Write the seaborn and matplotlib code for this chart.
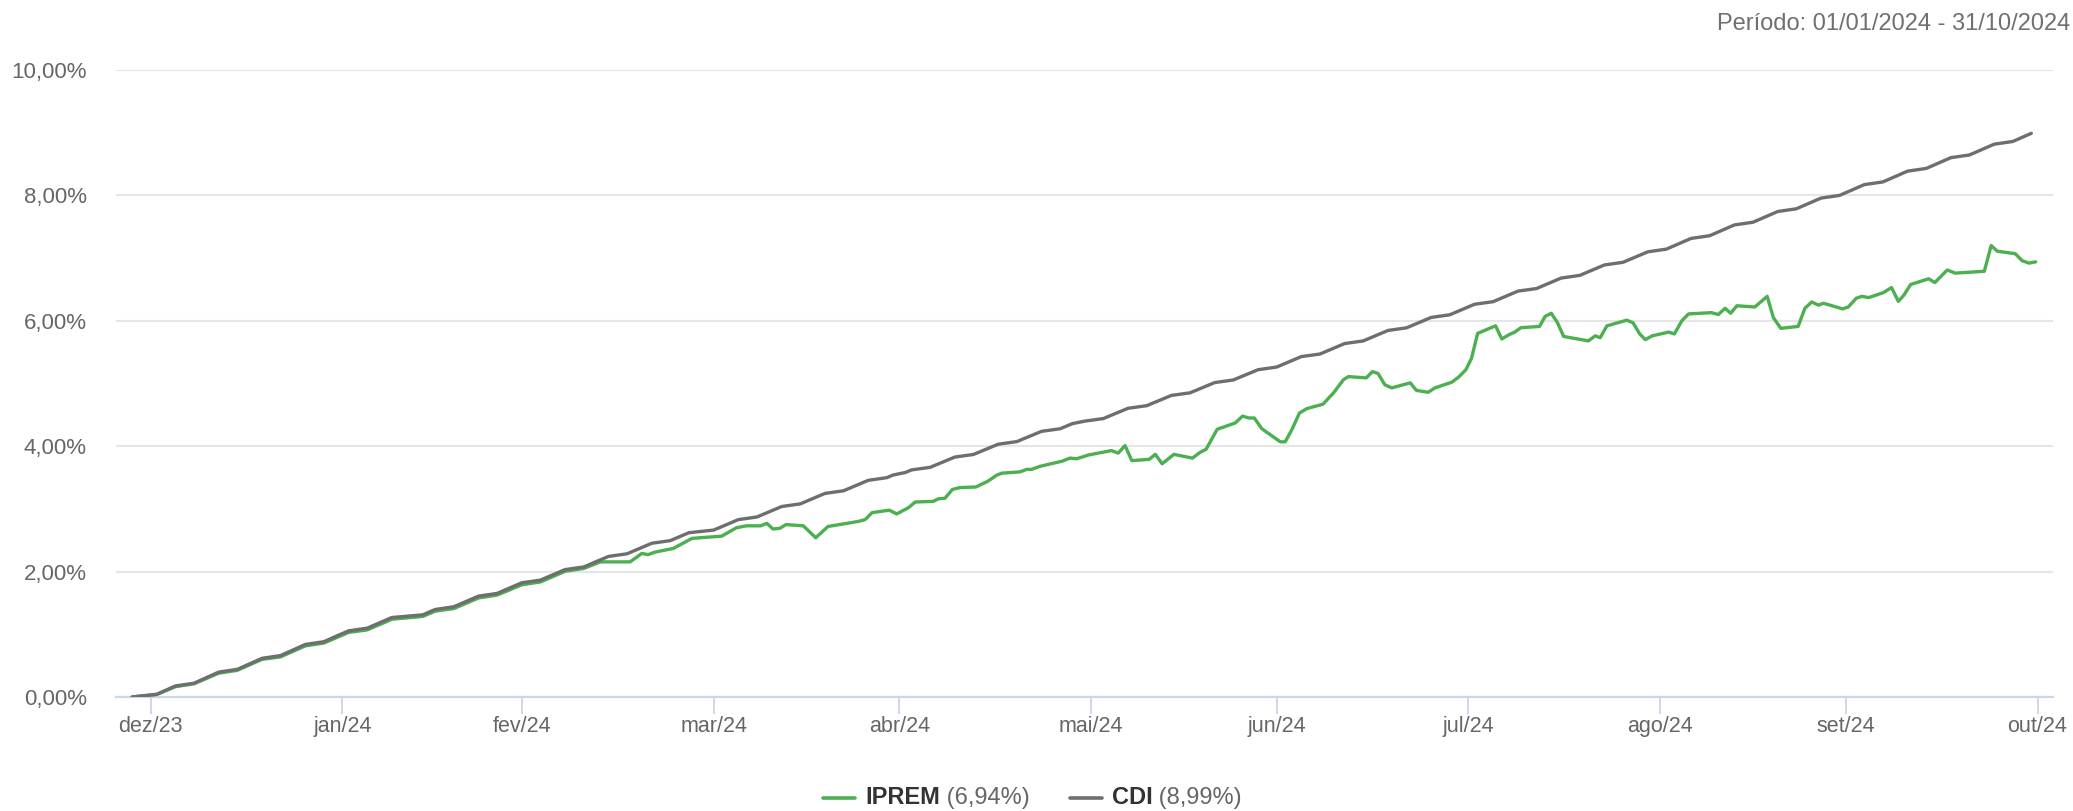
import numpy as np
import pandas as pd
import matplotlib
matplotlib.use("Agg")
import matplotlib.pyplot as plt
import seaborn as sns
from matplotlib.lines import Line2D

# ---------------- data ----------------
series_names = ["IPREM", "CDI"]
series_colors = ["#4caf50", "#6e6e6e"]

cdi_dates = [
    "2023-12-29", "2024-01-02", "2024-01-05", "2024-01-08", "2024-01-12", "2024-01-15",
    "2024-01-19", "2024-01-22", "2024-01-26", "2024-01-29", "2024-01-31", "2024-02-02",
    "2024-02-05", "2024-02-09", "2024-02-14", "2024-02-16", "2024-02-19", "2024-02-23",
    "2024-02-26", "2024-02-29", "2024-03-01", "2024-03-04", "2024-03-08", "2024-03-11",
    "2024-03-15", "2024-03-18", "2024-03-22", "2024-03-25", "2024-03-28", "2024-04-01",
    "2024-04-05", "2024-04-08", "2024-04-12", "2024-04-15", "2024-04-19", "2024-04-22",
    "2024-04-26", "2024-04-29", "2024-04-30", "2024-05-02", "2024-05-03", "2024-05-06",
    "2024-05-10", "2024-05-13", "2024-05-17", "2024-05-20", "2024-05-24", "2024-05-27",
    "2024-05-29", "2024-05-31", "2024-06-03", "2024-06-07", "2024-06-10", "2024-06-14",
    "2024-06-17", "2024-06-21", "2024-06-24", "2024-06-28", "2024-07-01", "2024-07-05",
    "2024-07-08", "2024-07-12", "2024-07-15", "2024-07-19", "2024-07-22", "2024-07-26",
    "2024-07-29", "2024-07-31", "2024-08-02", "2024-08-05", "2024-08-09", "2024-08-12",
    "2024-08-16", "2024-08-19", "2024-08-23", "2024-08-26", "2024-08-30", "2024-09-02",
    "2024-09-06", "2024-09-09", "2024-09-13", "2024-09-16", "2024-09-20", "2024-09-23",
    "2024-09-27", "2024-09-30", "2024-10-04", "2024-10-07", "2024-10-11", "2024-10-14",
    "2024-10-18", "2024-10-21", "2024-10-25", "2024-10-28", "2024-10-31",
]
cdi_values = [
    0.000, 0.044, 0.176, 0.220, 0.397, 0.441,
    0.617, 0.661, 0.838, 0.882, 0.970, 1.055,
    1.098, 1.268, 1.311, 1.396, 1.439, 1.609,
    1.652, 1.780, 1.822, 1.864, 2.032, 2.074,
    2.242, 2.284, 2.452, 2.494, 2.620, 2.662,
    2.829, 2.871, 3.038, 3.080, 3.247, 3.289,
    3.456, 3.498, 3.540, 3.581, 3.622, 3.663,
    3.827, 3.868, 4.032, 4.073, 4.237, 4.278,
    4.360, 4.400, 4.441, 4.605, 4.646, 4.810,
    4.851, 5.015, 5.056, 5.220, 5.262, 5.429,
    5.470, 5.637, 5.679, 5.846, 5.888, 6.054,
    6.096, 6.180, 6.264, 6.305, 6.473, 6.514,
    6.682, 6.724, 6.891, 6.933, 7.100, 7.143,
    7.314, 7.357, 7.529, 7.572, 7.743, 7.786,
    7.957, 8.000, 8.172, 8.215, 8.387, 8.430,
    8.602, 8.645, 8.817, 8.860, 8.990,
]

# IPREM: days counted from 01/01/2024
iprem_days = [
    -3, 1, 4, 7, 11, 14, 18, 21, 25, 28, 30, 32, 35, 39, 44, 46, 49, 53, 56, 59,
    60, 63, 67, 70, 72.7, 77.5, 79.4, 80.4, 81.5, 84.5, 87.5, 92.3, 94.7, 96.3,
    98.6, 99.6, 100.6, 101.7, 102.7, 105.5, 107.5, 109.5, 114.4, 115.5, 116.6,
    119.4, 120.6, 122.5, 123.6, 126.5, 127.3, 128.4, 129.6, 130.8, 133.4, 135.3,
    136.8, 137.6, 140.5, 141.6, 142.4, 143.8, 147.3, 148.6, 149.7, 151.6, 155.3,
    156.4, 157.5, 158.6, 161.4, 162.4, 163.5, 165.4, 168.4, 169.6, 170.6, 172.4,
    175.3, 176.5, 177.5, 178.4, 179.6, 182.6, 183.4, 184.5, 185.7, 186.9, 189.5,
    191.2, 192.8, 193.6, 196.5, 197.5, 198.4, 199.5, 200.6, 203.6, 204.6, 206.5,
    207.6, 210.3, 211.4, 212.6, 213.5, 214.5, 217.4, 218.4, 219.6, 220.5, 221.5,
    224.5, 225.4, 226.4, 227.4, 228.4, 232.4, 233.5, 234.3, 235.4, 238.6, 239.6,
    240.7, 241.6, 242.7, 245.4, 246.3, 247.5, 248.6, 252.3, 253.4, 254.5, 255.4,
    256.4, 259.3, 261.3, 262.3, 263.5, 266.3, 267.4, 268.5, 269.6, 270.4, 273.5,
    274.4, 275.7, 276.6, 277.7, 280.1, 281.4, 282.5, 283.4, 284.5, 287.4, 288.4,
    290.4, 291.7, 296.4, 297.5, 298.5, 301.4, 302.5, 303.6, 304.7,
]
iprem_values = [
    0.00, 0.04, 0.165, 0.21, 0.38, 0.425, 0.60, 0.64, 0.815, 0.86, 0.945, 1.03,
    1.07, 1.24, 1.285, 1.37, 1.41, 1.58, 1.625, 1.75,
    1.79, 1.835, 2.005, 2.05, 2.155, 2.155, 2.29, 2.27, 2.31, 2.37, 2.53, 2.565, 2.70, 2.73,
    2.73, 2.77, 2.68, 2.69, 2.75, 2.73, 2.54, 2.72, 2.80, 2.83, 2.94,
    2.98, 2.92, 3.02, 3.11, 3.12, 3.16, 3.17, 3.31, 3.34, 3.35, 3.44,
    3.54, 3.57, 3.59, 3.63, 3.63, 3.68, 3.76, 3.81, 3.80, 3.86, 3.93,
    3.89, 4.01, 3.77, 3.79, 3.87, 3.72, 3.87, 3.81, 3.90, 3.95, 4.27,
    4.37, 4.48, 4.45, 4.45, 4.28, 4.07, 4.07, 4.27, 4.53, 4.60, 4.67,
    4.85, 5.06, 5.11, 5.09, 5.19, 5.16, 4.98, 4.93, 5.01, 4.89, 4.86,
    4.93, 5.02, 5.10, 5.22, 5.40, 5.80, 5.92, 5.71, 5.78, 5.82, 5.89,
    5.91, 6.07, 6.12, 5.97, 5.75, 5.68, 5.76, 5.73, 5.92, 6.01, 5.97,
    5.79, 5.70, 5.76, 5.82, 5.79, 6.00, 6.11, 6.13, 6.10, 6.20, 6.12,
    6.24, 6.22, 6.39, 6.05, 5.88, 5.91, 6.20, 6.30, 6.25, 6.28, 6.19,
    6.22, 6.36, 6.39, 6.37, 6.45, 6.53, 6.31, 6.41, 6.58, 6.67, 6.61,
    6.81, 6.76, 6.79, 7.20, 7.11, 7.07, 6.96, 6.92, 6.94,
]

month_ticks = ["2024-01-01", "2024-02-01", "2024-03-01", "2024-04-01", "2024-05-01",
               "2024-06-01", "2024-07-01", "2024-08-01", "2024-09-01", "2024-10-01",
               "2024-11-01"]
month_labels = ["dez/23", "jan/24", "fev/24", "mar/24", "abr/24", "mai/24",
                "jun/24", "jul/24", "ago/24", "set/24", "out/24"]
y_ticks = [0, 2, 4, 6, 8, 10]
period_text = "Período: 01/01/2024 - 31/10/2024"

# ---------------- build frame ----------------
base = pd.Timestamp("2024-01-01")
df_i = pd.DataFrame({
    "date": base + pd.to_timedelta(np.array(iprem_days, dtype=float), unit="D"),
    "value": iprem_values, "serie": "IPREM"})
df_c = pd.DataFrame({"date": pd.to_datetime(cdi_dates), "value": cdi_values, "serie": "CDI"})
df = pd.concat([df_i, df_c], ignore_index=True)

# ---------------- style ----------------
sns.set_style("white")
plt.rcParams["font.family"] = ["Liberation Sans", "DejaVu Sans"]

W, H = 2073, 811
fig = plt.figure(figsize=(W / 100, H / 100), dpi=100)
ax = fig.add_axes([116 / W, 1 - 697 / H, (2053 - 116) / W, (697 - 70) / H])

sns.lineplot(data=df, x="date", y="value", hue="serie", hue_order=series_names,
             palette=dict(zip(series_names, series_colors)), estimator=None,
             linewidth=2.4, legend=False, ax=ax)

ax.set_ylim(0, 10)
ax.set_xlim(base - pd.Timedelta(days=5.6), base + pd.Timedelta(days=307.5))
ax.set_yticks(y_ticks)
ax.set_yticklabels([f"{v:.2f}%".replace(".", ",") for v in y_ticks])
ax.set_xticks(pd.to_datetime(month_ticks))
ax.set_xticklabels(month_labels)
ax.set_xlabel("")
ax.set_ylabel("")

ax.grid(axis="y", color="#e6e6e6", linewidth=1.5)
ax.grid(axis="x", visible=False)
ax.set_axisbelow(True)
for s in ["top", "left", "right"]:
    ax.spines[s].set_visible(False)
ax.spines["bottom"].set_color("#ccd6eb")
ax.spines["bottom"].set_linewidth(1.6)
ax.spines["bottom"].set_zorder(1.5)

ax.tick_params(axis="x", bottom=True, length=12, width=1.3, color="#ccd6eb",
               labelcolor="#666666", labelsize=15.5, pad=2, direction="out")
ax.tick_params(axis="y", left=False, length=0, labelcolor="#666666", labelsize=16, pad=21)
for lbl in ax.get_yticklabels():
    lbl.set_verticalalignment("center_baseline")

fig.text(2070 / W, 1 - 24 / H, period_text, ha="right", va="center",
         fontsize=17, color="#707070")

# ---------------- legend (manual, Highcharts-like) ----------------
fig.canvas.draw()
renderer = fig.canvas.get_renderer()
leg_y = 1 - 798 / H
final_vals = [iprem_values[-1], cdi_values[-1]]
items = []
for name, color, val in zip(series_names, series_colors, final_vals):
    t1 = fig.text(0, leg_y, name, fontsize=17, fontweight="bold", color="#333333",
                  ha="left", va="center")
    t2 = fig.text(0, leg_y, f" ({val:.2f}%)".replace(".", ","), fontsize=17,
                  color="#666666", ha="left", va="center")
    items.append((color, t1, t2))

line_len, gap_line, gap_item = 32, 10, 40
widths = []
for color, t1, t2 in items:
    w1 = t1.get_window_extent(renderer).width
    w2 = t2.get_window_extent(renderer).width
    widths.append((w1, w2))
total = sum(line_len + gap_line + w1 + w2 for w1, w2 in widths) + gap_item * (len(items) - 1)
x = W / 2 - total / 2 - 4
for (color, t1, t2), (w1, w2) in zip(items, widths):
    fig.add_artist(Line2D([x / W, (x + line_len) / W], [leg_y, leg_y], color=color,
                          linewidth=2.6, transform=fig.transFigure))
    x += line_len + gap_line
    t1.set_x(x / W)
    x += w1
    t2.set_x(x / W)
    x += w2 + gap_item

fig.savefig("out.png", dpi=100, facecolor="white")
